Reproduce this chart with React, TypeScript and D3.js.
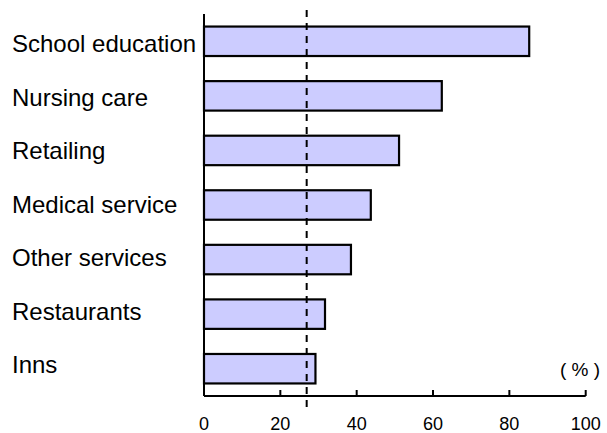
import React from "react";
import * as d3 from "d3";

const categories = [
  "School education",
  "Nursing care",
  "Retailing",
  "Medical service",
  "Other services",
  "Restaurants",
  "Inns",
];
const values = [85.2, 62.3, 51.1, 43.7, 38.5, 31.7, 29.2];
const tickValues = [0, 20, 40, 60, 80, 100];
const averageValue = 26.9;
const unitLabel = "( % )";

const W = 607;
const H = 433;
const FONT = "'Liberation Sans', Arial, Helvetica, sans-serif";

export default function App() {
  const x = d3.scaleLinear().domain([0, 100]).range([204, 585.7]);
  const y = d3
    .scaleBand<string>()
    .domain(categories)
    .range([14, 396])
    .paddingInner(0.46)
    .paddingOuter(0.23);
  const labelY = d3.scalePoint<string>().domain(categories).range([43.5, 364.5]);
  const axisY = 396;

  return (
    <svg
      width={W}
      height={H}
      style={{ position: "absolute", left: 0, top: 0, background: "#fff" }}
      fontFamily={FONT}
    >
      {/* bars */}
      {categories.map((c, i) => (
        <rect
          key={c}
          x={x(0)}
          y={y(c)!}
          width={x(values[i]) - x(0)}
          height={y.bandwidth()}
          fill="#ccccff"
          stroke="#000"
          strokeWidth={2.2}
        />
      ))}
      {/* average dashed line */}
      <line
        x1={x(averageValue)}
        x2={x(averageValue)}
        y1={10}
        y2={410}
        stroke="#000"
        strokeWidth={2}
        strokeDasharray="7,6"
      />
      {/* left axis */}
      <line x1={x(0)} x2={x(0)} y1={14} y2={axisY} stroke="#000" strokeWidth={2} />
      {/* bottom axis */}
      <line x1={x(0)} x2={x(100)} y1={axisY} y2={axisY} stroke="#000" strokeWidth={2} />
      {tickValues.map((t) => (
        <g key={t}>
          <line x1={x(t)} x2={x(t)} y1={axisY} y2={axisY - 6} stroke="#000" strokeWidth={2} />
          <text x={x(t)} y={430} textAnchor="middle" fontSize={18} fill="#000">
            {t}
          </text>
        </g>
      ))}
      {/* category labels */}
      {categories.map((c) => (
        <text key={c} x={12} y={labelY(c)! + 8.6} fontSize={24} fill="#000">
          {c}
        </text>
      ))}
      <text
        x={600}
        y={376}
        textAnchor="end"
        fontSize={19}
        fill="#000"
        style={{ whiteSpace: "pre" }}
      >
        {unitLabel}
      </text>
    </svg>
  );
}
